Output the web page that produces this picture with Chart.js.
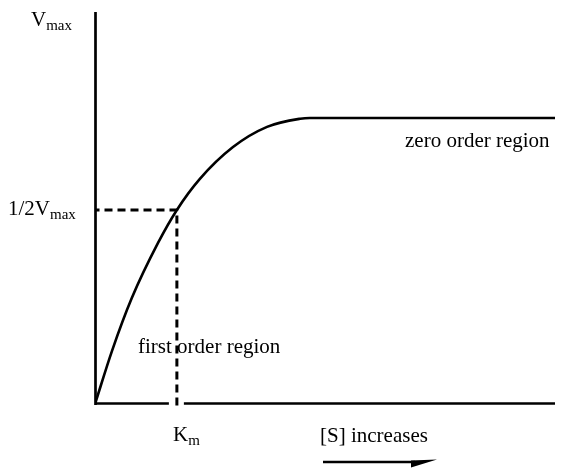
<!DOCTYPE html>
<html>
<head>
<meta charset="utf-8">
<script src="https://cdn.jsdelivr.net/npm/chart.js@4"></script>
<style>
html,body{margin:0;padding:0;background:#fff;}
canvas{display:block;}
</style>
</head>
<body>
<canvas id="graph" width="570" height="468"></canvas>
<script>

// substrate concentration (arbitrary units) and reaction rate as fraction of Vmax
const sConc=[0,0.37,0.80,1.37,1.78,2.28,3.0,3.74,4.46,4.67,10];
const rate=[0,0.137,0.273,0.415,0.5,0.580,0.662,0.714,0.735,0.737,0.737];

const km=1.78;
const halfVmax=0.5;
const xMax=10;
const yMax=1.01;

const serif="'Liberation Serif','Times New Roman',serif";

function subText(ctx,main,sub,x,y){
ctx.font="21px "+serif;
ctx.fillText(main,x,y);
let w=ctx.measureText(main).width;
ctx.font="15px "+serif;
ctx.fillText(sub,x+w,y+4);
}

const axesPlugin={
id:"axes",
beforeDatasetsDraw(chart){
let ctx=chart.ctx;
let xs=chart.scales.x, ys=chart.scales.y;
let x0=xs.getPixelForValue(0), y0=ys.getPixelForValue(0);
ctx.save();
ctx.strokeStyle="#000";
ctx.lineWidth=2.7;
ctx.beginPath();
ctx.moveTo(x0+0.5,ys.getPixelForValue(yMax));
ctx.lineTo(x0+0.5,y0+1);
ctx.stroke();
ctx.lineWidth=2.4;
ctx.beginPath();
ctx.moveTo(x0,y0-0.5);
ctx.lineTo(xs.getPixelForValue(xMax),y0-0.5);
ctx.stroke();
// break in the axis where the Km guide crosses it
let kx=xs.getPixelForValue(km);
ctx.fillStyle="#fff";
ctx.fillRect(kx-8,y0-4,15,7);
ctx.restore();
},
afterDraw(chart){
let ctx=chart.ctx;
ctx.save();
ctx.fillStyle="#000";
ctx.textBaseline="alphabetic";
ctx.textAlign="left";
subText(ctx,"V","max",31,26);
subText(ctx,"1/2V","max",8,215);
subText(ctx,"K","m",173,441);
ctx.font="21px "+serif;
ctx.fillText("zero order region",405,147);
ctx.fillText("first order region",138,353);
ctx.fillText("[S] increases",320,442);

// arrow under the x label
ctx.strokeStyle="#000";
ctx.lineWidth=2.5;
ctx.beginPath();
ctx.moveTo(323,462);
ctx.lineTo(415,462);
ctx.stroke();
ctx.beginPath();
ctx.moveTo(411,460.5);
ctx.lineTo(437,459.5);
ctx.lineTo(411,467.5);
ctx.closePath();
ctx.fill();
ctx.restore();
}
};

const curve=sConc.map((s,i)=>({x:s,y:rate[i]}));

new Chart(document.getElementById("graph"),{
type:"scatter",
data:{
datasets:[
{
data:curve,
showLine:true,
borderColor:"#000",
borderWidth:2.6,
pointRadius:0,
cubicInterpolationMode:"monotone"
},
{
data:[{x:0,y:halfVmax},{x:km,y:halfVmax},{x:km,y:-0.004}],
showLine:true,
borderColor:"#000",
borderWidth:3,
borderDash:[8,5],
borderDashOffset:3.5,
borderJoinStyle:"miter",
pointRadius:0,
clip:false
}
]
},
plugins:[axesPlugin],
options:{
responsive:false,
animation:false,
layout:{padding:{left:95,top:12,right:15,bottom:64}},
plugins:{legend:{display:false},tooltip:{enabled:false}},
scales:{
x:{type:"linear",min:0,max:xMax,display:false},
y:{type:"linear",min:0,max:yMax,display:false}
}
}
});

</script>
</body>
</html>
